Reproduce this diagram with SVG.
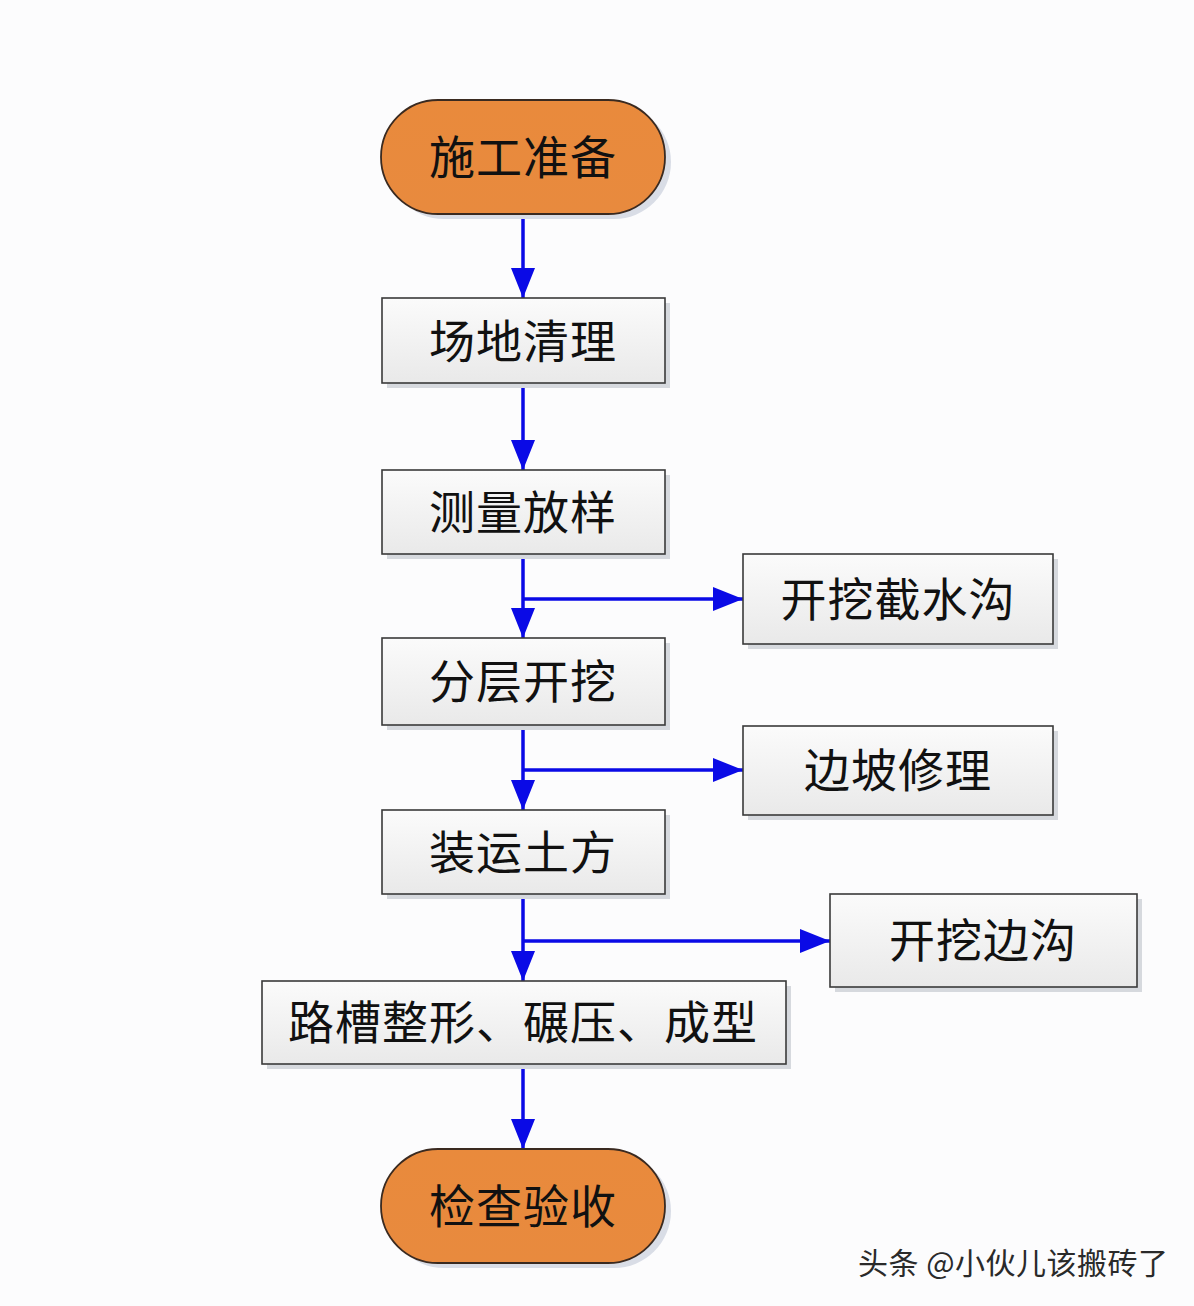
<svg xmlns="http://www.w3.org/2000/svg" width="1194" height="1306" viewBox="0 0 1194 1306">
<defs>
<linearGradient id="boxg" x1="0" y1="0" x2="0" y2="1">
<stop offset="0" stop-color="#fbfbfb"/>
<stop offset="1" stop-color="#e9e9e9"/>
</linearGradient>
<linearGradient id="termg" x1="0" y1="0" x2="0" y2="1">
<stop offset="0" stop-color="#e98a3c"/>
<stop offset="1" stop-color="#e88a3e"/>
</linearGradient>
<marker id="ah" viewBox="0 0 30 24" refX="30" refY="12" markerWidth="30" markerHeight="24" markerUnits="userSpaceOnUse" orient="auto">
<path d="M0,0 L30,12 L0,24 Z" fill="#0a0ae6"/>
</marker>
</defs>
<style>
.box{fill:url(#boxg);stroke:#3a3a3a;stroke-width:1.6}
.term{fill:url(#termg);stroke:#3a2a20;stroke-width:1.8}
.sh{fill:#d6d9de}
.tsh{fill:#d9dde6}
.lbl{font-family:"Noto Sans CJK SC","Noto Sans CJK JP",sans-serif;font-size:46px;fill:#111;text-anchor:middle;dominant-baseline:central;letter-spacing:1px}
.con{stroke:#0a0ae6;stroke-width:3.5;fill:none}
.wm{font-family:"Noto Sans CJK SC",sans-serif;font-size:30px;fill:#2a2a2a;letter-spacing:0.5px}
</style>
<rect width="1194" height="1306" fill="#fcfcfd"/>
<g id="connectors">
<line class="con" x1="523" y1="214" x2="523" y2="298" marker-end="url(#ah)"/>
<line class="con" x1="523" y1="383" x2="523" y2="470" marker-end="url(#ah)"/>
<line class="con" x1="523" y1="554" x2="523" y2="638" marker-end="url(#ah)"/>
<line class="con" x1="523" y1="599" x2="743" y2="599" marker-end="url(#ah)"/>
<line class="con" x1="523" y1="725" x2="523" y2="810" marker-end="url(#ah)"/>
<line class="con" x1="523" y1="770" x2="743" y2="770" marker-end="url(#ah)"/>
<line class="con" x1="523" y1="894" x2="523" y2="981" marker-end="url(#ah)"/>
<line class="con" x1="523" y1="941" x2="830" y2="941" marker-end="url(#ah)"/>
<line class="con" x1="523" y1="1064" x2="523" y2="1149" marker-end="url(#ah)"/>
</g>
<g id="n1">
<rect class="tsh" x="387" y="105" width="284" height="114" rx="57"/>
<rect class="term" x="381" y="100" width="284" height="114" rx="57"/>
<text class="lbl" x="523" y="154">施工准备</text>
</g>
<g id="n2">
<rect class="sh" x="387" y="303" width="283" height="85"/>
<rect class="box" x="382" y="298" width="283" height="85"/>
<text class="lbl" x="523" y="338">场地清理</text>
</g>
<g id="n3">
<rect class="sh" x="387" y="475" width="283" height="84"/>
<rect class="box" x="382" y="470" width="283" height="84"/>
<text class="lbl" x="523" y="509">测量放样</text>
</g>
<g id="n4">
<rect class="sh" x="748" y="559" width="310" height="90"/>
<rect class="box" x="743" y="554" width="310" height="90"/>
<text class="lbl" x="898" y="596">开挖截水沟</text>
</g>
<g id="n5">
<rect class="sh" x="387" y="643" width="283" height="87"/>
<rect class="box" x="382" y="638" width="283" height="87"/>
<text class="lbl" x="523" y="678">分层开挖</text>
</g>
<g id="n6">
<rect class="sh" x="748" y="731" width="310" height="89"/>
<rect class="box" x="743" y="726" width="310" height="89"/>
<text class="lbl" x="898" y="767">边坡修理</text>
</g>
<g id="n7">
<rect class="sh" x="387" y="815" width="283" height="84"/>
<rect class="box" x="382" y="810" width="283" height="84"/>
<text class="lbl" x="523" y="849">装运土方</text>
</g>
<g id="n8">
<rect class="sh" x="835" y="899" width="307" height="93"/>
<rect class="box" x="830" y="894" width="307" height="93"/>
<text class="lbl" x="983" y="937">开挖边沟</text>
</g>
<g id="n9">
<rect class="sh" x="267" y="986" width="524" height="83"/>
<rect class="box" x="262" y="981" width="524" height="83"/>
<text class="lbl" x="523" y="1019">路槽整形、碾压、成型</text>
</g>
<g id="n10">
<rect class="tsh" x="387" y="1154" width="284" height="114" rx="57"/>
<rect class="term" x="381" y="1149" width="284" height="114" rx="57"/>
<text class="lbl" x="523" y="1203">检查验收</text>
</g>
<text class="wm" x="858" y="1274">头条 @小伙儿该搬砖了</text>
</svg>
